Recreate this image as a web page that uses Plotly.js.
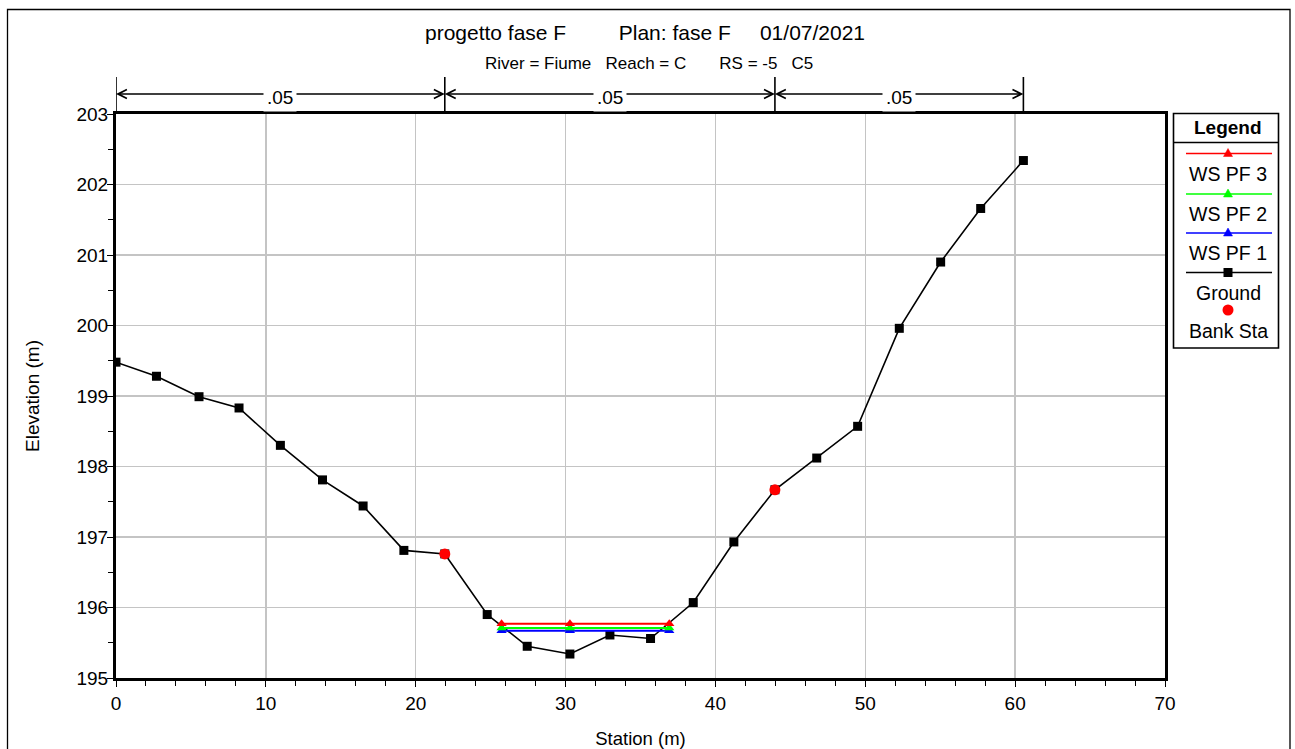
<!DOCTYPE html>
<html>
<head>
<meta charset="utf-8">
<script src="https://cdn.plot.ly/plotly-3.0.1.min.js"></script>
<style>html,body{margin:0;padding:0;background:#fff;}#chart{width:1295px;height:749px;}</style>
</head>
<body>
<div id="chart"></div>
<script>
// ---- data ----
const groundStation = [0, 2.70, 5.54, 8.21, 10.97, 13.78, 16.49, 19.21, 21.94, 24.77, 27.44, 30.29, 32.96, 35.67, 38.52, 41.23, 43.97, 46.76, 49.49, 52.27, 55.03, 57.70, 60.55];
const groundElev = [199.48, 199.28, 198.99, 198.83, 198.30, 197.81, 197.44, 196.81, 196.76, 195.90, 195.45, 195.34, 195.61, 195.56, 196.07, 196.93, 197.67, 198.12, 198.57, 199.96, 200.90, 201.66, 202.34];
const bankStation = [21.94, 43.97];
const bankElev = [196.76, 197.67];
const wsStation = [25.73, 30.29, 36.92];
const wsPF3 = [195.77, 195.77, 195.77];
const wsPF2 = [195.71, 195.71, 195.71];
const wsPF1 = [195.67, 195.67, 195.67];
const nBreaks = [0, 21.94, 43.97, 60.55];
const nValues = ['.05', '.05', '.05'];
const legendNames = ['WS PF 3', 'WS PF 2', 'WS PF 1', 'Ground', 'Bank Sta'];
const NB = n => '\u00a0'.repeat(n);
const titleText = 'progetto fase F' + NB(9) + 'Plan: fase F' + NB(5) + '01/07/2021';
const subtitleText = 'River = Fiume' + NB(3) + 'Reach = C' + NB(7) + 'RS = -5' + NB(3) + 'C5';

// ---- layout helpers (pixel -> paper) ----
const L = 116, T = 114, W = 1049, H = 564;
const PX = p => (p - L) / W;
const PY = p => (T + H - p) / H;
const FONT = 'Liberation Sans, Arial, sans-serif';

const traces = [
  {x: groundStation, y: groundElev, name: 'Ground', mode: 'lines+markers',
   line: {color: 'black', width: 1.6}, marker: {symbol: 'square', size: 9, color: 'black'}},
  {x: wsStation, y: wsPF1, name: 'WS PF 1', mode: 'lines+markers',
   line: {color: '#0000ff', width: 2}, marker: {symbol: 'triangle-up', size: 9, color: '#0000ff'}},
  {x: wsStation, y: wsPF2, name: 'WS PF 2', mode: 'lines+markers',
   line: {color: '#00ff00', width: 2}, marker: {symbol: 'triangle-up', size: 9, color: '#00ff00'}},
  {x: wsStation, y: wsPF3, name: 'WS PF 3', mode: 'lines+markers',
   line: {color: '#ff0000', width: 2}, marker: {symbol: 'triangle-up', size: 9, color: '#ff0000'}},
  {x: bankStation, y: bankElev, name: 'Bank Sta', mode: 'markers',
   marker: {symbol: 'circle', size: 11, color: '#ff0000'}}
];

const shapes = [];
const annotations = [];

// outer frame
shapes.push({type: 'rect', xref: 'paper', yref: 'paper', x0: PX(7.5), x1: PX(1290), y0: PY(9.5), y1: PY(770),
  line: {color: 'black', width: 1.3}, fillcolor: 'rgba(0,0,0,0)'});

// Manning n markers above plot
const yArrow = PY(94);
nBreaks.forEach(b => {
  shapes.push({type: 'line', xref: 'x', yref: 'paper', x0: b, x1: b, y0: 1, y1: PY(77),
    line: {color: 'black', width: 1.6}});
});
for (let i = 0; i < nValues.length; i++) {
  const a = nBreaks[i], b = nBreaks[i + 1], mid = (a + b) / 2;
  [a, b].forEach(end => {
    annotations.push({xref: 'x', yref: 'paper', x: end, y: yArrow, axref: 'x', ayref: 'pixel', ax: mid, ay: 0,
      text: '', showarrow: true, arrowhead: 5, arrowsize: 1.1, arrowwidth: 1.6, arrowcolor: 'black', standoff: 0});
  });
  annotations.push({xref: 'x', yref: 'paper', x: mid, y: PY(97), text: nValues[i], showarrow: false,
    bgcolor: 'white', borderpad: 3, font: {family: FONT, size: 19, color: 'black'}, xanchor: 'center', yanchor: 'middle'});
}

// subtitle
annotations.push({xref: 'paper', yref: 'paper', x: PX(649), y: PY(64), text: subtitleText, showarrow: false,
  font: {family: FONT, size: 17, color: 'black'}, xanchor: 'center', yanchor: 'middle'});

// custom legend
const lx0 = 1173.5, lx1 = 1278.5, lcx = 1228;
shapes.push({type: 'rect', xref: 'paper', yref: 'paper', x0: PX(lx0), x1: PX(lx1), y0: PY(113.5), y1: PY(348),
  line: {color: 'black', width: 1.6}, fillcolor: 'white', layer: 'above'});
shapes.push({type: 'line', xref: 'paper', yref: 'paper', x0: PX(lx0), x1: PX(lx1), y0: PY(142.5), y1: PY(142.5),
  line: {color: 'black', width: 1.4}});
annotations.push({xref: 'paper', yref: 'paper', x: PX(lcx), y: PY(128), text: '<b>Legend</b>', showarrow: false,
  font: {family: FONT, size: 19, color: 'black'}, xanchor: 'center', yanchor: 'middle'});

const sampleColors = ['#ff0000', '#00ff00', '#0000ff', 'black'];
const sampleY = [153.5, 194, 233, 272.5];
const textY = [174, 214, 253, 293, 331];
sampleColors.forEach((c, i) => {
  const y = sampleY[i];
  shapes.push({type: 'line', xref: 'paper', yref: 'paper', x0: PX(1186), x1: PX(1272), y0: PY(y), y1: PY(y),
    line: {color: c, width: 1.6}});
  if (i < 3) {
    const path = `M ${PX(lcx - 4.5)} ${PY(y + 3)} L ${PX(lcx + 4.5)} ${PY(y + 3)} L ${PX(lcx)} ${PY(y - 5)} Z`;
    shapes.push({type: 'path', xref: 'paper', yref: 'paper', path: path, fillcolor: c, line: {color: c, width: 0.5}});
  } else {
    shapes.push({type: 'rect', xref: 'paper', yref: 'paper', x0: PX(lcx - 4.5), x1: PX(lcx + 4.5), y0: PY(y - 4.5), y1: PY(y + 4.5),
      fillcolor: 'black', line: {color: 'black', width: 0}});
  }
});
shapes.push({type: 'circle', xref: 'paper', yref: 'paper', x0: PX(lcx - 5.5), x1: PX(lcx + 5.5), y0: PY(310 - 5.5), y1: PY(310 + 5.5),
  fillcolor: '#ff0000', line: {color: '#ff0000', width: 0}});
legendNames.forEach((n, i) => {
  annotations.push({xref: 'paper', yref: 'paper', x: PX(lcx), y: PY(textY[i]), text: n, showarrow: false,
    font: {family: FONT, size: 19.5, color: 'black'}, xanchor: 'center', yanchor: 'middle'});
});

const axisCommon = {
  ticks: 'outside', ticklen: 6, tickwidth: 1, tickcolor: 'black',
  showgrid: true, gridcolor: '#c4c4c4', gridwidth: 1.5,
  showline: true, linewidth: 3, linecolor: 'black', mirror: true,
  zeroline: false, tickfont: {family: FONT, size: 19, color: 'black'},
  automargin: false
};

const layout = {
  width: 1295, height: 749,
  margin: {l: L, r: 1295 - L - W, t: T, b: 749 - T - H, pad: 0},
  paper_bgcolor: 'white', plot_bgcolor: 'white',
  showlegend: false,
  font: {family: FONT, color: 'black'},
  title: {text: titleText, font: {family: FONT, size: 21, color: 'black'},
    xref: 'container', yref: 'container', x: 645 / 1295, y: 1 - 33 / 749, xanchor: 'center', yanchor: 'middle'},
  xaxis: Object.assign({}, axisCommon, {
    range: [0, 70], tickmode: 'linear', tick0: 0, dtick: 10,
    minor: {tickmode: 'linear', tick0: 0, dtick: 2, ticks: 'outside', ticklen: 5, tickcolor: 'black', showgrid: false},
    ticklabelstandoff: 0,
    title: {text: 'Station (m)', font: {family: FONT, size: 18.5, color: 'black'}, standoff: 22}
  }),
  yaxis: Object.assign({}, axisCommon, {
    range: [195, 203], tickmode: 'linear', tick0: 195, dtick: 1,
    minor: {tickmode: 'linear', tick0: 195, dtick: 0.5, ticks: 'outside', ticklen: 5, tickcolor: 'black', showgrid: false},
    ticklabelstandoff: -5,
    title: {text: 'Elevation (m)', font: {family: FONT, size: 19, color: 'black'}, standoff: 32}
  }),
  shapes: shapes,
  annotations: annotations
};

Plotly.newPlot('chart', traces, layout, {displayModeBar: false, staticPlot: true});
</script>
</body>
</html>
